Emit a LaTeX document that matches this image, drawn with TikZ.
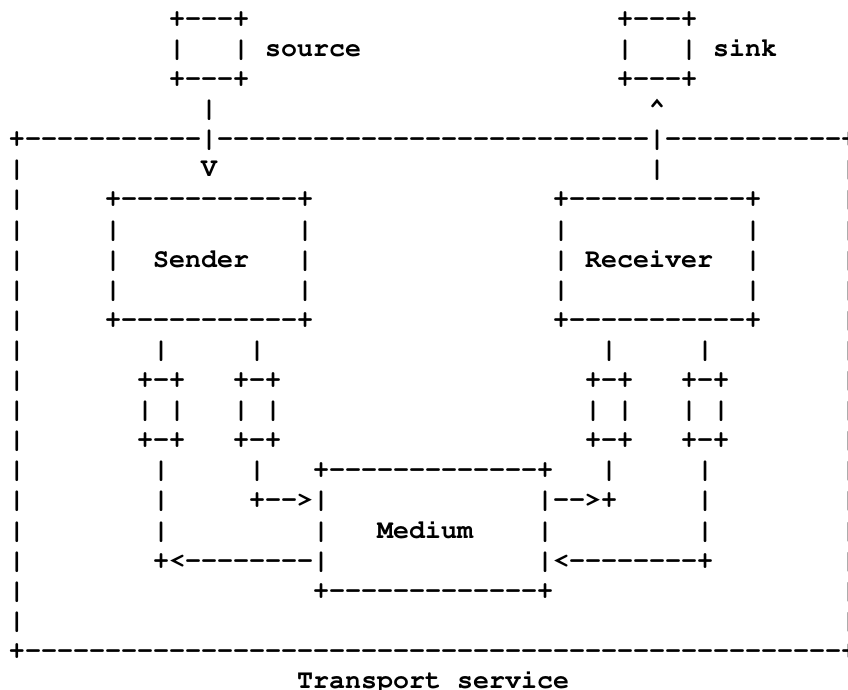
\documentclass[tikz,border=0pt]{standalone}
\usepackage[T1,TU]{fontenc}

% runs of hyphens, kept apart so no ligature can join them
\ExplSyntaxOn
\cs_new:Npn \dashrun #1 { \prg_replicate:nn {#1} { -{} } }
\ExplSyntaxOff

% one cell of the character grid is 16 wide and 30.1 high
\newcommand\cellrun[4]{%
  \node[glyphs] (#1) at ({9+16*(#2)},{-26.3-30.1*(#3)}) {#4};}

\tikzset{
  glyphs/.style={anchor=base west, inner sep=0pt, outer sep=0pt,
    font=\fontencoding{T1}\fontfamily{pcr}\fontseries{b}\fontshape{n}%
         \fontsize{26.67}{30.1}\selectfont}
}

\begin{document}
\begin{tikzpicture}[x=1pt,y=1pt]
\useasboundingbox (0,0) rectangle (848,-689);

% source and sink
\cellrun{srcTop}{10}{0}{+\dashrun{3}+}
\cellrun{sinkTop}{38}{0}{+\dashrun{3}+}
\cellrun{srcL}{10}{1}{|}
\cellrun{srcR}{14}{1}{|}
\cellrun{srcLabel}{16}{1}{source}
\cellrun{sinkL}{38}{1}{|}
\cellrun{sinkR}{42}{1}{|}
\cellrun{sinkLabel}{44}{1}{sink}
\cellrun{srcBot}{10}{2}{+\dashrun{3}+}
\cellrun{sinkBot}{38}{2}{+\dashrun{3}+}
\cellrun{srcStem}{12}{3}{|}
\cellrun{sinkHead}{40}{3}{\textasciicircum}

% transport service frame
\cellrun{svcTop}{0}{4}{+\dashrun{11}|\dashrun{27}|\dashrun{11}+}
\foreach \r in {5,...,20} {
  \cellrun{wallW\r}{0}{\r}{|}
  \cellrun{wallE\r}{52}{\r}{|}
}
\cellrun{svcBot}{0}{21}{+\dashrun{51}+}
\cellrun{svcLabelA}{18}{22}{Transport}
\cellrun{svcLabelB}{28}{22}{service}

\cellrun{srcHead}{12}{5}{V}
\cellrun{sinkStem}{40}{5}{|}

% sender
\cellrun{sndTop}{6}{6}{+\dashrun{11}+}
\foreach \r in {7,8,9} {
  \cellrun{sndL\r}{6}{\r}{|}
  \cellrun{sndR\r}{18}{\r}{|}
}
\cellrun{sndLabel}{9}{8}{Sender}
\cellrun{sndBot}{6}{10}{+\dashrun{11}+}

% receiver
\cellrun{rcvTop}{34}{6}{+\dashrun{11}+}
\foreach \r in {7,8,9} {
  \cellrun{rcvL\r}{34}{\r}{|}
  \cellrun{rcvR\r}{46}{\r}{|}
}
\cellrun{rcvLabel}{36}{8}{Receiver}
\cellrun{rcvBot}{34}{10}{+\dashrun{11}+}

% stems down to the small boxes
\foreach \c in {9,15,37,43} {
  \cellrun{stemA\c}{\c}{11}{|}
}

% four small boxes
\foreach \c in {8,14,36,42} {
  \cellrun{boxT\c}{\c}{12}{+-+}
  \cellrun{boxL\c}{\c}{13}{|}
  \cellrun{boxR\c}{\c+2}{13}{|}
  \cellrun{boxB\c}{\c}{14}{+-+}
}

% stems below the small boxes
\foreach \c in {9,15,37,43} {
  \cellrun{stemB\c}{\c}{15}{|}
}
\cellrun{stemC9}{9}{16}{|}
\cellrun{stemC43}{43}{16}{|}
\cellrun{stemD9}{9}{17}{|}
\cellrun{stemD43}{43}{17}{|}

% medium
\cellrun{medTop}{19}{15}{+\dashrun{13}+}
\cellrun{arrIn}{15}{16}{+\dashrun{2}>|}
\cellrun{arrOut}{33}{16}{|\dashrun{2}>+}
\cellrun{medL}{19}{17}{|}
\cellrun{medLabel}{23}{17}{Medium}
\cellrun{medR}{33}{17}{|}
\cellrun{retLeft}{9}{18}{+<\dashrun{8}|}
\cellrun{retRight}{33}{18}{|<\dashrun{8}+}
\cellrun{medBot}{19}{19}{+\dashrun{13}+}

\end{tikzpicture}
\end{document}
